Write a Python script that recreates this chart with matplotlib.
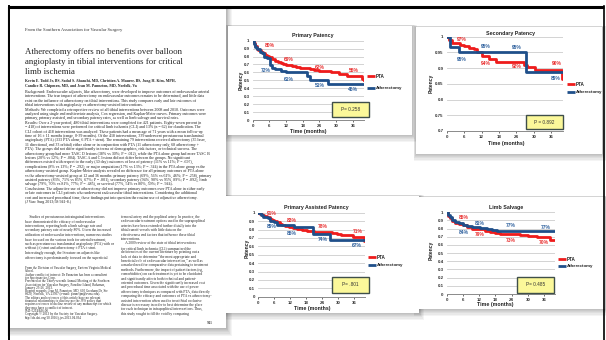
"""
Slide: first page of the Todd et al. paper on the left, the four
Kaplan-Meier panels (PTA vs atherectomy) pasted on the right.
Writes out.png (606x340).
"""
import textwrap
import matplotlib
matplotlib.use("Agg")
import matplotlib.pyplot as plt
from matplotlib.patches import Rectangle

W, H = 606, 340

MONTH_TICKS = [0, 6, 12, 18, 24, 30, 36]

# ---- primary patency ----
PP_PTA_T = [0, 0.5, 1, 1.5, 2, 3, 3.8, 4.5, 5.2, 6, 7, 8, 9, 10, 11, 12, 14, 15.5,
            17, 19, 20.5, 22, 24, 26, 28, 29.5, 31, 34, 39.2, 40]
PP_PTA_S = [1, 0.97, 0.93, 0.90, 0.88, 0.86, 0.84, 0.82, 0.81, 0.80, 0.77, 0.75, 0.73,
            0.72, 0.70, 0.69, 0.68, 0.67, 0.66, 0.65, 0.64, 0.63, 0.62, 0.615, 0.61,
            0.60, 0.58, 0.56, 0.52, 0.50]
PP_ATH_T = [0, 0.5, 1, 1.5, 2.5, 3.2, 4, 5, 6.2, 7, 8, 10, 12, 19.5, 20.5, 27, 40]
PP_ATH_S = [1, 0.96, 0.92, 0.89, 0.86, 0.84, 0.80, 0.78, 0.69, 0.66, 0.64, 0.62, 0.61,
            0.56, 0.51, 0.46, 0.46]
PP_PTA_PCT = ["80%", "69%", "62%", "56%"]
PP_ATH_PCT = ["72%", "61%", "51%", "46%"]

# ---- secondary patency ----
SP_PTA_T = [0, 0.8, 1.7, 4.6, 5.8, 7.5, 9.3, 10.4, 12.2, 14.5, 16.8, 26.7, 27.5, 30.5,
            39.5, 40]
SP_PTA_S = [1, 0.99, 0.98, 0.975, 0.97, 0.965, 0.96, 0.95, 0.94, 0.93, 0.92, 0.91,
            0.905, 0.895, 0.865, 0.865]
SP_ATH_T = [0, 1.2, 4.2, 27.3, 40]
SP_ATH_S = [1, 0.967, 0.95, 0.887, 0.887]
SP_PTA_PCT = ["97%", "94%", "92%", "90%"]
SP_ATH_PCT = ["95%", "95%", "95%", "89%"]

# ---- primary assisted patency ----
PA_PTA_T = [0, 0.6, 1.3, 2.2, 3.2, 4.2, 5, 6, 7, 8, 8.8, 10, 11.4, 13, 14.5, 16.5,
            18.3, 20.8, 27.8, 29.5, 31, 35.5, 39.8, 40]
PA_PTA_S = [1, 0.985, 0.97, 0.955, 0.944, 0.925, 0.913, 0.905, 0.885, 0.87, 0.853,
            0.84, 0.83, 0.815, 0.806, 0.795, 0.786, 0.775, 0.76, 0.745, 0.73, 0.71,
            0.66, 0.66]
PA_ATH_T = [0, 1, 1.9, 3.8, 4.4, 5.7, 7, 13.3, 20.5, 26.8, 40]
PA_ATH_S = [1, 0.97, 0.952, 0.933, 0.905, 0.89, 0.853, 0.825, 0.742, 0.675, 0.675]
PA_PTA_PCT = ["91%", "83%", "78%", "71%"]
PA_ATH_PCT = ["89%", "85%", "74%", "67%"]

# ---- limb salvage ----
LS_PTA_T = [0, 0.5, 1.2, 2, 3.1, 4.5, 6, 7.4, 9.3, 10.5, 12, 14, 16, 18, 19.7, 21.5,
            24, 27, 30.2, 33.3, 38.3, 40]
LS_PTA_S = [1, 0.96, 0.927, 0.89, 0.87, 0.86, 0.85, 0.82, 0.80, 0.795, 0.79, 0.77,
            0.755, 0.745, 0.74, 0.735, 0.73, 0.72, 0.71, 0.70, 0.665, 0.665]
LS_ATH_T = [0, 0.5, 1.2, 2, 3.1, 4.5, 6, 7.4, 9.3, 11, 12.3, 14.8, 16.7, 18.5, 40]
LS_ATH_S = [1, 0.97, 0.947, 0.91, 0.886, 0.87, 0.845, 0.835, 0.825, 0.815, 0.81, 0.79,
            0.78, 0.77, 0.77]
LS_PTA_PCT = ["85%", "79%", "73%", "70%"]
LS_ATH_PCT = ["84%", "81%", "77%", "77%"]

P_TEXT = ["P= 0.258", "P = 0.892", "P= .801", "P= 0.485"]

RED = "#ee1c1c"
BLUE = "#1f4f8a"

# layout of each pasted chart, all in slide pixels (y down)
CHARTS = [
    dict(title="Primary Patency", card=(228, 26, 412, 135), plot=(252.7, 40.7, 364, 120),
         ylim=(0, 1), yticks=[i / 10 for i in range(11)],
         pta=(PP_PTA_T, PP_PTA_S, PP_PTA_PCT), ath=(PP_ATH_T, PP_ATH_S, PP_ATH_PCT),
         red_xy=[(6, 0.937), (13, 0.765), (24.2, 0.66), (36.2, 0.63)],
         blue_xy=[(4.8, 0.62), (12.8, 0.51), (24.2, 0.44), (36.2, 0.38)],
         title_xy=(313, 36), ylab_xy=(241, 80), xlab_xy=(308, 132),
         leg=(366.7, 76, 88), pbox=(332, 102, 369, 117)),
    dict(title="Secondary Patency", card=(416, 27, 602, 154), plot=(446.7, 36.7, 563, 131),
         ylim=(0.7, 1), yticks=[0.7, 0.75, 0.8, 0.85, 0.9, 0.95, 1.0],
         pta=(SP_PTA_T, SP_PTA_S, SP_PTA_PCT), ath=(SP_ATH_T, SP_ATH_S, SP_ATH_PCT),
         red_xy=[(5.2, 0.99), (13.3, 0.915), (24.1, 0.905), (37.7, 0.915)],
         blue_xy=[(5.2, 0.928), (13.3, 0.97), (24.1, 0.966), (37.4, 0.868)],
         title_xy=(510, 34), ylab_xy=(430.7, 83), xlab_xy=(506, 143),
         leg=(566.7, 84.3, 91.7), pbox=(526, 115, 563, 129)),
    dict(title="Primary Assisted Patency", card=(226, 196, 419, 313),
         plot=(258.3, 212.7, 365, 296.7),
         ylim=(0, 1), yticks=[i / 10 for i in range(11)],
         pta=(PA_PTA_T, PA_PTA_S, PA_PTA_PCT), ath=(PA_ATH_T, PA_ATH_S, PA_ATH_PCT),
         red_xy=[(5, 0.99), (12.6, 0.905), (24, 0.84), (37.2, 0.78)],
         blue_xy=[(5, 0.833), (12.6, 0.754), (24, 0.68), (37, 0.615)],
         title_xy=(316, 207), ylab_xy=(247, 248), xlab_xy=(312, 308.3),
         leg=(367.7, 257.3, 265), pbox=(332, 277, 369, 293)),
    dict(title="Limb Salvage", card=(416, 197, 605, 309), plot=(446.7, 212.3, 555, 294),
         ylim=(0, 1), yticks=[i / 10 for i in range(11)],
         pta=(LS_PTA_T, LS_PTA_S, LS_PTA_PCT), ath=(LS_ATH_T, LS_ATH_S, LS_ATH_PCT),
         red_xy=[(6.2, 0.935), (12.3, 0.73), (23.5, 0.66), (36, 0.63)],
         blue_xy=[(6.2, 0.755), (12.3, 0.857), (23.5, 0.833), (36.4, 0.82)],
         title_xy=(506, 208), ylab_xy=(431, 250), xlab_xy=(495, 304.3),
         leg=(557.7, 259.3, 266.3), pbox=(517, 277, 554, 293)),
]

HEADER = "From the Southern Association for Vascular Surgery"
TITLE_LINES = ["Atherectomy offers no benefits over balloon",
               "angioplasty in tibial interventions for critical",
               "limb ischemia"]
AUTHOR_LINES = ["Kevin E. Todd Jr, BS, Sadaf S. Ahanchi, MD, Christian A. Maurer, BS, Jung H. Kim, MPH,",
                "Candice R. Chipman, MD, and Jean M. Panneton, MD, Norfolk, Va"]

ABSTRACT = [
    "Background: Endovascular adjuncts, like atherectomy, were developed to improve outcomes of "
    "endovascular arterial interventions. The true impact of atherectomy on endovascular outcomes remains "
    "to be determined, and little data exist on the influence of atherectomy on tibial interventions. This "
    "study compares early and late outcomes of tibial interventions with angioplasty vs atherectomy-assisted "
    "interventions.",
    "Methods: We completed a retrospective review of all tibial interventions between 2008 and 2010. Outcomes "
    "were analyzed using single and multivariate analysis, Cox regression, and Kaplan-Meier curves. Primary "
    "outcomes were primary, primary assisted, and secondary patency rates, as well as limb salvage and "
    "survival rates.",
    "Results: Over a 2-year period, 480 tibial interventions were completed for 421 patients. Eighty-seven "
    "percent (n = 418) of interventions were performed for critical limb ischemia (CLI) and 13% (n = 62) for "
    "claudication. The CLI cohort of 418 interventions was analyzed. These patients had a mean age of 71 years "
    "with a mean follow-up time of 16 \u00b1 11 months (range, 0-39 months). Of the 418 interventions, 339 "
    "underwent percutaneous transluminal angioplasty (PTA) (333 PTA alone, 6 PTA + stent). The remaining 79 "
    "interventions received atherectomy (35 laser, 11 directional, and 33 orbital) either alone or in "
    "conjunction with PTA (11 atherectomy only, 68 atherectomy + PTA). The groups did not differ significantly "
    "in terms of demographics, risk factors, or technical success. The atherectomy group had more TASC D "
    "lesions (38% vs 30%; P = .012), while the PTA alone group had more TASC B lesions (20% vs 12%; P = .004). "
    "TASC A and C lesions did not differ between the groups. No significant differences existed with respect "
    "to the early (30 day) outcomes of loss of patency (11% vs 11%; P = .697), complications (8% vs 13%; "
    "P = .292), or major amputation (17% vs 13%; P = .344) in the PTA alone group vs the atherectomy-assisted "
    "group. Kaplan-Meier analysis revealed no difference for all primary outcomes of PTA alone vs the "
    "atherectomy-assisted group at 12 and 36 months: primary patency (69%, 56% vs 61%, 46%; P = .258), "
    "primary assisted patency (83%, 71% vs 85%, 67%; P = .801), secondary patency (94%, 90% vs 95%, 89%; "
    "P = .892), limb salvage (79%, 70% vs 81%, 77%; P = .485), or survival (77%, 54% vs 80%, 59%; P = .944).",
    "Conclusions: The adjunctive use of atherectomy did not improve primary outcomes over PTA alone in either "
    "early or late outcomes in CLI patients who underwent endovascular tibial interventions. Considering the "
    "additional cost and increased procedural time, these findings put into question the routine use of "
    "adjunctive atherectomy. (J Vasc Surg 2013;58:941-8.)",
]

BODY_LEFT = (
    "     Studies of percutaneous infrainguinal interventions have demonstrated the efficacy of "
    "endovascular interventions, reporting both a limb salvage rate and secondary patency rate of "
    "nearly 80%. Given the increased utilization of endovascular interventions, numerous studies have "
    "focused on the various tools for arterial treatment, such as percutaneous transluminal angioplasty "
    "(PTA) with or without (\u00b1) stent and atherectomy \u00b1 PTA \u00b1 stent. Interestingly enough, "
    "the literature on adjuncts like atherectomy is predominantly focused on the superficial"
)
FOOTNOTES = [
    "From the Division of Vascular Surgery, Eastern Virginia Medical School.",
    "Author conflict of interest: Dr Panneton has been a consultant for Spectranetics Corp.",
    "Presented at the Thirty-seventh Annual Meeting of the Southern Association for Vascular Surgery, "
    "Paradise Island, Bahamas, January 23-26, 2013.",
    "Reprint requests: Jean M. Panneton, MD, 600 Gresham Dr, Ste 8620, Norfolk, VA 23507 "
    "(e-mail: pannetjm@evms.edu).",
    "The editors and reviewers of this article have no relevant financial relationships to disclose per "
    "the JVS policy that requires reviewers to decline review of any manuscript for which they may have "
    "a conflict of interest.",
    "0741-5214/$36.00",
    "Copyright \u00a9 2013 by the Society for Vascular Surgery.",
    "http://dx.doi.org/10.1016/j.jvs.2013.04.034",
]
BODY_RIGHT = [
    "femoral artery and the popliteal artery. In practice, the endovascular treatment options used in "
    "the suprapopliteal arteries have been extended further distally into the tibial runoff vessels with "
    "little data on the effectiveness and factors that influence these tibial interventions.",
    "     A 2009 review of the state of tibial interventions for critical limb ischemia (CLI) summarized "
    "the deficiencies of the current literature by pointing out a lack of data to determine \u201cthe most "
    "appropriate and beneficial role of endovascular intervention,\u201d as well as a marked need for "
    "comparative data pertaining to treatment methods. Furthermore, the impact of patient factors (eg, "
    "comorbidities) on each treatment is yet to be elucidated and significantly affects both technical "
    "and patient-oriented outcomes. Given the significantly increased cost and procedural time associated "
    "with the use of power atherectomy techniques as compared with PTA, data directly comparing the "
    "efficacy and outcomes of PTA vs atherectomy-assisted intervention when used to treat tibial occlusive "
    "disease is necessary in order to best determine the place for each technique in infrapopliteal "
    "interventions. Thus, this study sought to fill the void by comparing",
]

SERIF = "Liberation Serif"
SANS = "Liberation Sans"


def shadow_card(ax, x0, y0, x1, y1, spread=6, z=1):
    # soft grey shadow, heavier below, then the white card itself
    for k in range(spread, 0, -1):
        ax.add_patch(Rectangle((x0 - k * 0.4, y0 - k * 0.2), (x1 - x0) + k * 1.2,
                               (y1 - y0) + k * 1.3, facecolor="k", alpha=0.045,
                               lw=0, zorder=z))
    ax.add_patch(Rectangle((x0, y0), x1 - x0, y1 - y0, facecolor="white", lw=0,
                           zorder=z + 0.5))


def draw_lines(ax, x, y, lines, step, size, **kw):
    for ln in lines:
        ax.text(x, y, ln, fontsize=size, family=SERIF, va="center", ha="left",
                color="#222", zorder=3, **kw)
        y += step
    return y


def px_axes(fig, x0, y0, x1, y1, **kw):
    return fig.add_axes([x0 / W, 1 - y1 / H, (x1 - x0) / W, (y1 - y0) / H], **kw)


def main():
    fig = plt.figure(figsize=(W / 100, H / 100), dpi=100)
    fig.patch.set_facecolor("white")

    bg = px_axes(fig, 0, 0, W, H)
    bg.set_xlim(0, W); bg.set_ylim(H, 0); bg.axis("off")

    # ---- paper page ----
    shadow_card(bg, 10, 8, 226, 328, spread=7)
    bg.text(25, 30, HEADER, fontsize=3.3, family=SERIF, va="center", color="#333", zorder=3)
    draw_lines(bg, 25, 52.5, TITLE_LINES, 9.6, 6.3)
    draw_lines(bg, 25, 81, AUTHOR_LINES, 5.5, 2.75, fontweight="bold")

    y = 92
    for par in ABSTRACT:
        y = draw_lines(bg, 25, y, textwrap.wrap(par, 112), 4.4, 2.85)

    # two-column body
    left = textwrap.wrap(BODY_LEFT, 60)
    draw_lines(bg, 25, 217, left, 4.5, 2.65)
    y = 268
    for fn in FOOTNOTES:
        y = draw_lines(bg, 25, y, textwrap.wrap(fn, 64), 3.3, 2.3)
    y = 217
    for par in BODY_RIGHT:
        y = draw_lines(bg, 121, y, textwrap.wrap(par, 58), 4.4, 2.65)
    bg.text(213, 323, "941", fontsize=3, family=SERIF, ha="right", va="center", zorder=3)

    # ---- chart cards ----
    for c in CHARTS:
        shadow_card(bg, *c["card"], spread=6)

    # black slide frame
    bg.plot([8, 604], [6.5, 6.5], color="k", lw=2.2, zorder=6, solid_capstyle="butt")
    bg.plot([8.5, 8.5], [6, H], color="k", lw=1.4, zorder=6)
    bg.plot([604, 604], [6, H], color="k", lw=1.2, zorder=6)

    for c in CHARTS:
        ax = px_axes(fig, *c["plot"])
        ax.set_facecolor("none")
        t, s, pct = c["pta"]
        ax.plot(t, s, drawstyle="steps-post", color=RED, lw=2.0, zorder=3)
        t, s, pct_b = c["ath"]
        ax.plot(t, s, drawstyle="steps-post", color=BLUE, lw=2.0, zorder=3)
        for (x, yv), lab in zip(c["red_xy"], pct):
            ax.text(x, yv, lab, color="#e82a2a", fontsize=3.6, fontweight="bold",
                    family=SANS, ha="center", va="center", zorder=4)
        for (x, yv), lab in zip(c["blue_xy"], pct_b):
            ax.text(x, yv, lab, color="#2b5e9c", fontsize=3.6, fontweight="bold",
                    family=SANS, ha="center", va="center", zorder=4)
        ax.set_xlim(0, 40)
        ax.set_ylim(*c["ylim"])
        ax.set_xticks(MONTH_TICKS)
        ax.set_yticks(c["yticks"])
        ax.set_yticklabels([f"{v:g}" for v in c["yticks"]])
        ax.grid(axis="y", color="#cccccc", lw=0.6)
        ax.set_axisbelow(True)
        for sp in ("top", "right", "left"):
            ax.spines[sp].set_visible(False)
        ax.spines["bottom"].set_color("#8a8a8a")
        ax.spines["bottom"].set_linewidth(0.7)
        ax.tick_params(axis="y", length=0, labelsize=3.2, pad=2.2, colors="#333")
        ax.tick_params(axis="x", length=1.5, width=0.5, labelsize=3.2, pad=1.5,
                       colors="#333")
        for lbl in ax.get_xticklabels() + ax.get_yticklabels():
            lbl.set_family(SANS)
            lbl.set_fontweight("bold")

    # ---- overlay: titles, axis names, legends, p-value boxes ----
    top = px_axes(fig, 0, 0, W, H)
    top.set_facecolor("none")
    top.set_xlim(0, W); top.set_ylim(H, 0); top.axis("off")
    for c, ptxt in zip(CHARTS, P_TEXT):
        top.text(*c["title_xy"], c["title"], fontsize=3.8, fontweight="bold",
                 family=SANS, ha="center", va="center", color="#222")
        top.text(*c["ylab_xy"], "Patency", fontsize=3.6, fontweight="bold",
                 family=SANS, ha="center", va="center", rotation=90, color="#222")
        top.text(*c["xlab_xy"], "Time (months)", fontsize=3.8, fontweight="bold",
                 family=SANS, ha="center", va="center", color="#222")
        lx, ly1, ly2 = c["leg"]
        top.plot([lx, lx + 8], [ly1, ly1], color=RED, lw=2.0, solid_capstyle="butt")
        top.plot([lx, lx + 8], [ly2, ly2], color=BLUE, lw=2.0, solid_capstyle="butt")
        top.text(lx + 9, ly1, "PTA", fontsize=3.3, fontweight="bold", family=SANS,
                 va="center", color="#222")
        top.text(lx + 9, ly2, "Atherectomy", fontsize=3.2, fontweight="bold",
                 family=SANS, va="center", color="#222")
        x0, y0, x1, y1 = c["pbox"]
        top.add_patch(Rectangle((x0, y0), x1 - x0, y1 - y0, facecolor="#fbf89a",
                                edgecolor="#3f4f4a", lw=1.0, zorder=5))
        top.text((x0 + x1) / 2, (y0 + y1) / 2, ptxt, fontsize=3.4, family=SANS,
                 ha="center", va="center", color="#333", zorder=6)

    fig.savefig("out.png", dpi=100)
    plt.close(fig)


if __name__ == "__main__":
    main()
